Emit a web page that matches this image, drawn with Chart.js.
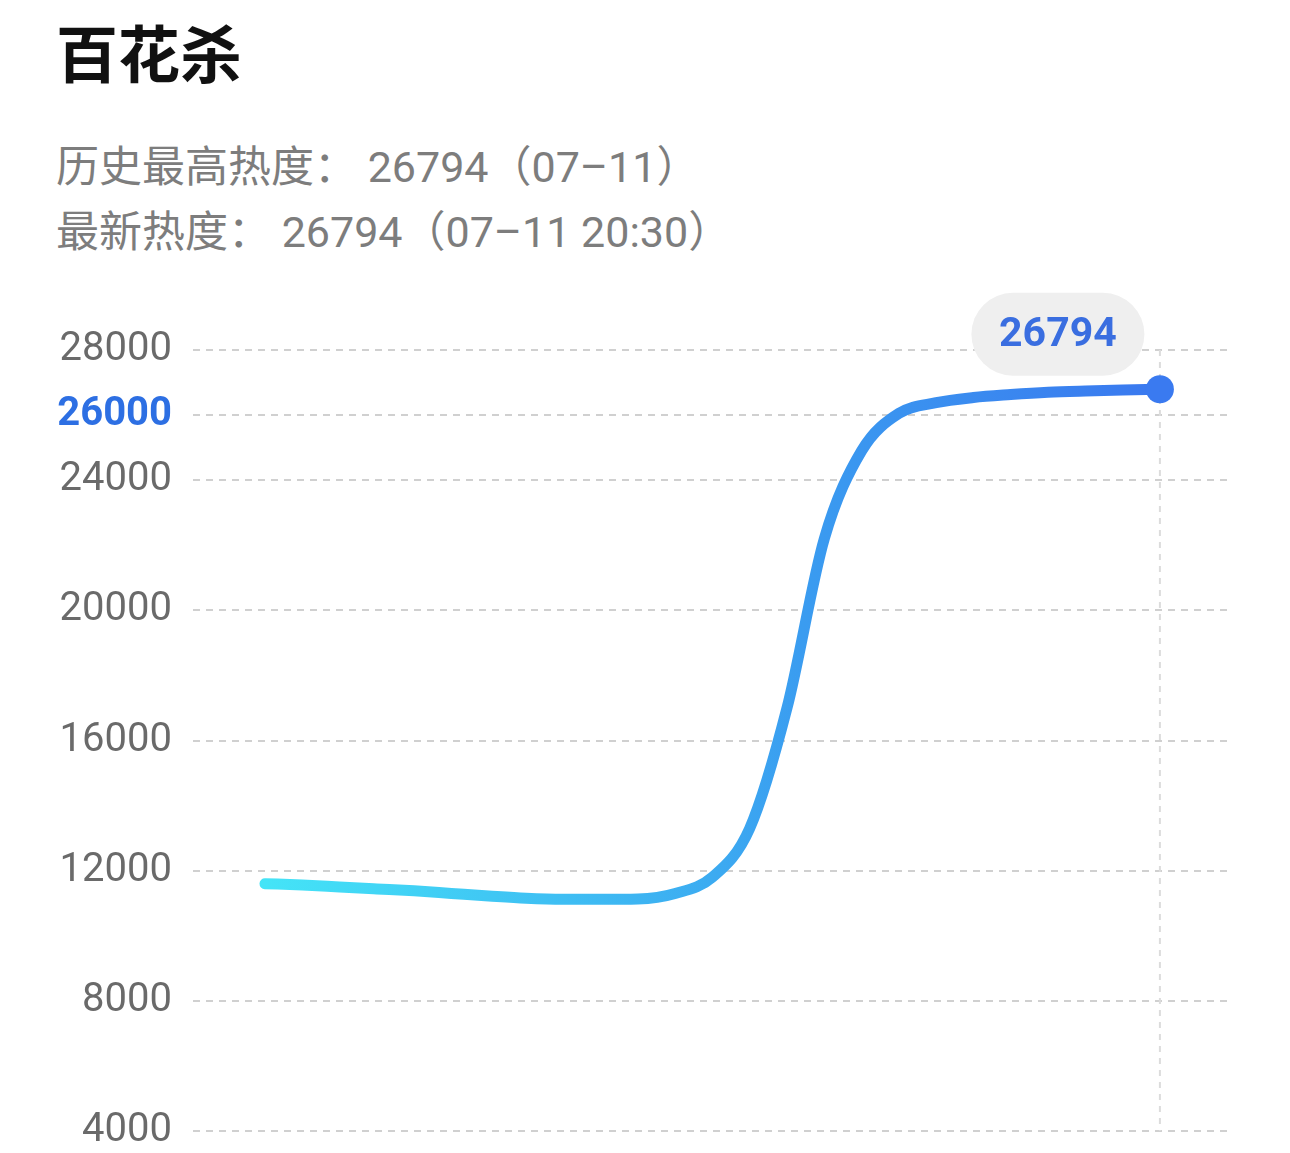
<!DOCTYPE html>
<html lang="zh">
<head>
<meta charset="utf-8">
<title>百花杀</title>
<script src="https://cdn.jsdelivr.net/npm/chart.js@4.4.1/dist/chart.umd.min.js"></script>
<style>
  html, body { margin: 0; padding: 0; background: #fff; }
  body { width: 1290px; height: 1153px; position: relative; overflow: hidden; font-family: "Noto Sans CJK SC", "Noto Sans", sans-serif; }
  #title { position: absolute; left: 56px; top: 15px; font-size: 62px; line-height: 72px; font-weight: 700; color: #111; }
  .sub { position: absolute; left: 56px; font-family: Roboto, "Noto Sans CJK SC", sans-serif; font-size: 43px; line-height: 64px; color: #7d7d7d; white-space: nowrap; }
  #sub1 { top: 135px; }
  #sub2 { top: 200px; }
  #chartBox { position: absolute; left: 0; top: 280px; width: 1290px; height: 896px; }
</style>
</head>
<body>
<div id="title">百花杀</div>
<div class="sub" id="sub1">历史最高热度： 26794（07–11）</div>
<div class="sub" id="sub2">最新热度： 26794（07–11 20:30）</div>
<div id="chartBox"><canvas id="heatChart"></canvas></div>
<script>
// --- data ---
const times = ["08:30", "09:00", "09:30", "10:00", "10:30", "11:00", "11:30", "12:00", "12:30",
  "13:00", "13:30", "14:00", "14:30", "15:00", "15:30", "16:00", "16:30", "17:00", "17:30",
  "18:00", "18:30", "19:00", "19:30", "20:00", "20:30"];
const heatValues = [11600, 11560, 11500, 11440, 11380, 11300, 11220, 11150, 11120,
  11120, 11130, 11300, 11800, 13300, 17000, 22200, 24900, 26050, 26380,
  26540, 26630, 26700, 26740, 26770, 26794];
const yTicks = [4000, 8000, 12000, 16000, 20000, 24000, 26000, 28000];
const highlightTick = 26000;

const lastIdx = heatValues.length - 1;
const points = heatValues.map((v, i) => ({ x: i, y: v }));

// dashed vertical guide at the latest point
const guideLine = {
  id: "guideLine",
  beforeDatasetsDraw(chart) {
    const { ctx, chartArea, scales } = chart;
    const x = scales.x.getPixelForValue(lastIdx);
    ctx.save();
    ctx.strokeStyle = "#dcdcdc";
    ctx.lineWidth = 2;
    ctx.setLineDash([6, 6]);
    ctx.beginPath();
    ctx.moveTo(x, chartArea.top);
    ctx.lineTo(x, chartArea.bottom);
    ctx.stroke();
    ctx.restore();
  },
};

// grey pill with the latest value
const valueBubble = {
  id: "valueBubble",
  afterDatasetsDraw(chart) {
    const { ctx } = chart;
    const pt = chart.getDatasetMeta(0).data[lastIdx];
    const cx = pt.x - 102, cy = pt.y - 55, w = 173, h = 83, r = h / 2;
    ctx.save();
    ctx.fillStyle = "#efefef";
    ctx.beginPath();
    ctx.roundRect(cx - w / 2, cy - h / 2, w, h, r);
    ctx.fill();
    ctx.fillStyle = "#3a6ee0";
    ctx.font = "bold 41px Roboto, sans-serif";
    ctx.textAlign = "center";
    ctx.textBaseline = "middle";
    ctx.fillText(String(heatValues[lastIdx]), cx, cy + 2);
    ctx.restore();
  },
};

const ctx = document.getElementById("heatChart").getContext("2d");

new Chart(ctx, {
  type: "line",
  data: {
    labels: times,
    datasets: [
      {
        data: points,
        borderWidth: 11,
        borderCapStyle: "round",
        borderJoinStyle: "round",
        cubicInterpolationMode: "monotone",
        borderColor: (c) => {
          const chart = c.chart;
          if (!chart.chartArea || !chart.scales.x) return "#3a9cf0";
          const x0 = chart.scales.x.getPixelForValue(0);
          const x1 = chart.scales.x.getPixelForValue(lastIdx);
          const g = chart.ctx.createLinearGradient(x0, 0, x1, 0);
          g.addColorStop(0, "#44e4f7");
          g.addColorStop(0.5, "#3cabf1");
          g.addColorStop(0.6, "#3a9cf0");
          g.addColorStop(1, "#3a78ef");
          return g;
        },
        pointRadius: (c) => (c.dataIndex === lastIdx ? 14 : 0),
        pointHoverRadius: (c) => (c.dataIndex === lastIdx ? 14 : 0),
        pointBackgroundColor: "#3a7af0",
        pointBorderWidth: 0,
        fill: false,
      },
    ],
  },
  options: {
    responsive: true,
    maintainAspectRatio: false,
    animation: false,
    devicePixelRatio: 1,
    layout: { padding: { left: 0, right: 60, top: 70, bottom: 0 } },
    plugins: { legend: { display: false }, tooltip: { enabled: false } },
    scales: {
      x: { type: "linear", display: false, min: -1.93, max: 25.88 },
      y: {
        min: 4000,
        max: 28000,
        afterBuildTicks: (s) => { s.ticks = yTicks.map((v) => ({ value: v })); },
        afterFit: (s) => { s.width = 193; },
        border: { display: false, dash: [7, 6] },
        grid: { color: "#d0d0d0", lineWidth: 2, drawTicks: false },
        ticks: {
          padding: 21,
          callback: (v) => String(v),
          color: (c) => (c.tick.value === highlightTick ? "#2d6fe3" : "#6a6a6a"),
          font: (c) => ({ family: "Roboto", size: 40, weight: c.tick && c.tick.value === highlightTick ? "bold" : "normal" }),
        },
      },
    },
  },
  plugins: [guideLine, valueBubble],
});
</script>
</body>
</html>
